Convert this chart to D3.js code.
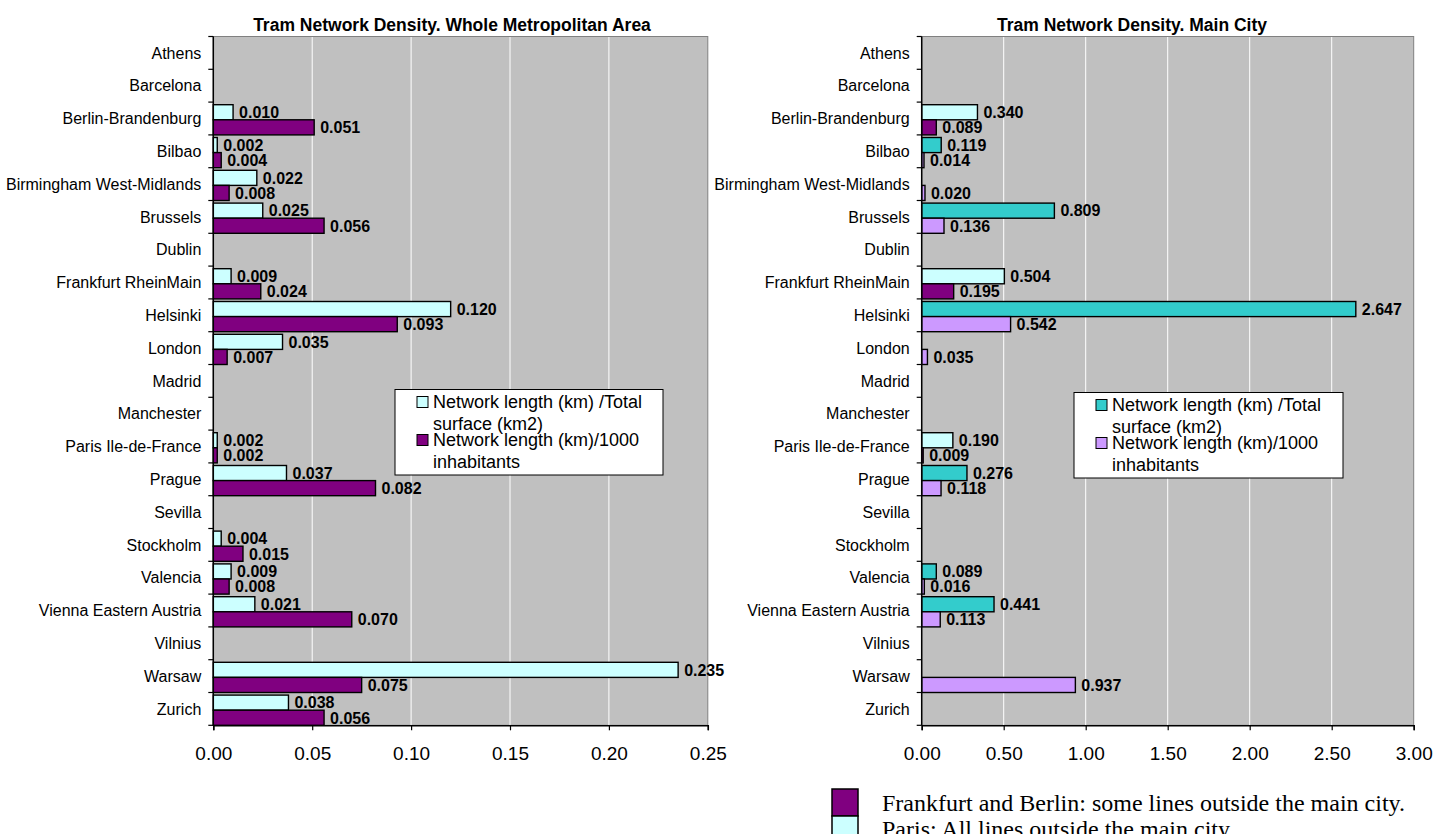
<!DOCTYPE html>
<html>
<head>
<meta charset="utf-8">
<script src="https://cdn.jsdelivr.net/npm/d3@7"></script>
<style>
  html, body { margin: 0; padding: 0; background: #ffffff; }
  svg { display: block; }
</style>
</head>
<body>
<svg id="chart" width="1433" height="834"></svg>
<script>
// ---------- DATA ----------
const categories = ["Athens","Barcelona","Berlin-Brandenburg","Bilbao","Birmingham West-Midlands","Brussels","Dublin","Frankfurt RheinMain","Helsinki","London","Madrid","Manchester","Paris Ile-de-France","Prague","Sevilla","Stockholm","Valencia","Vienna Eastern Austria","Vilnius","Warsaw","Zurich"];
const legendLines = [["Network length (km) /Total", "surface (km2)"], ["Network length (km)/1000", "inhabitants"]];

const metroSurface = [null,null,0.010,0.002,0.022,0.025,null,0.009,0.120,0.035,null,null,0.002,0.037,null,0.004,0.009,0.021,null,0.235,0.038];
const metroInhab   = [null,null,0.051,0.004,0.008,0.056,null,0.024,0.093,0.007,null,null,0.002,0.082,null,0.015,0.008,0.070,null,0.075,0.056];

const citySurface  = [null,null,0.340,0.119,null,0.809,null,0.504,2.647,null,null,null,0.190,0.276,null,null,0.089,0.441,null,null,null];
const cityInhab    = [null,null,0.089,0.014,0.020,0.136,null,0.195,0.542,0.035,null,null,0.009,0.118,null,null,0.016,0.113,null,0.937,null];

const metroTicks = [0, 0.05, 0.10, 0.15, 0.20, 0.25];
const cityTicks  = [0, 0.5, 1.0, 1.5, 2.0, 2.5, 3.0];

const titles = ["Tram Network Density. Whole Metropolitan Area", "Tram Network Density. Main City"];
const specialCategories = ["Berlin-Brandenburg","Frankfurt RheinMain","Paris Ile-de-France"];
const notes = ["Frankfurt and Berlin: some lines outside the main city.", "Paris: All lines outside the main city"];

// ---------- STYLE ----------
const SANS = "'Liberation Sans', Arial, sans-serif";
const SERIF = "'Liberation Serif', 'Times New Roman', serif";
const metroColors = ["#CCFFFF", "#800080"];
const cityColors  = ["#33CCCC", "#CC99FF"];

const svg = d3.select("#chart");

function drawPanel(opt) {
  const g = svg.append("g");
  const x = d3.scaleLinear().domain(opt.domain).range([opt.left, opt.right]);
  const y0 = d3.scaleBand().domain(categories).range([opt.top, opt.bottom]).padding(0);
  const y1 = d3.scaleBand().domain([0, 1]).range([2.6, y0.bandwidth()]).padding(0);

  // plot background
  g.append("rect")
    .attr("x", opt.left).attr("y", opt.top)
    .attr("width", opt.right - opt.left).attr("height", opt.bottom - opt.top)
    .attr("fill", "#C0C0C0").attr("stroke", "#808080").attr("stroke-width", 1);

  // gridlines
  g.selectAll("line.grid").data(opt.ticks.filter(t => t > 0 && t < opt.domain[1]))
    .join("line").attr("class", "grid")
    .attr("x1", d => x(d)).attr("x2", d => x(d))
    .attr("y1", opt.top + 0.5).attr("y2", opt.bottom)
    .attr("stroke", "#ffffff").attr("stroke-width", 1);

  // title
  g.append("text")
    .attr("x", opt.titleX).attr("y", 31)
    .attr("text-anchor", "middle")
    .attr("font-family", SANS).attr("font-weight", "bold").attr("font-size", 17.5)
    .text(opt.title);

  // bars
  const rows = [];
  categories.forEach((c, i) => {
    opt.series.forEach((s, k) => {
      if (s[i] !== null) rows.push({ cat: c, k: k, v: s[i] });
    });
  });
  const fillOf = d => (specialCategories.includes(d.cat) && opt.special) ? metroColors[d.k] : opt.colors[d.k];

  g.selectAll("rect.bar").data(rows).join("rect").attr("class", "bar")
    .attr("x", x(0))
    .attr("y", d => y0(d.cat) + y1(d.k))
    .attr("width", d => Math.max(0, x(d.v) - x(0)))
    .attr("height", y1.bandwidth())
    .attr("fill", fillOf)
    .attr("stroke", "#000").attr("stroke-width", 1.4);

  g.selectAll("text.val").data(rows).join("text").attr("class", "val")
    .attr("x", d => x(d.v) + 6)
    .attr("y", d => y0(d.cat) + y1(d.k) + y1.bandwidth() / 2)
    .attr("dy", "0.36em")
    .attr("font-family", SANS).attr("font-weight", "bold").attr("font-size", 16)
    .text(d => d3.format(".3f")(d.v));

  // y axis (left)
  g.append("line")
    .attr("x1", opt.left).attr("x2", opt.left)
    .attr("y1", opt.top).attr("y2", opt.bottom)
    .attr("stroke", "#000").attr("stroke-width", 1.5);
  const bounds = categories.map(c => y0(c)).concat([opt.bottom]);
  g.selectAll("line.ytick").data(bounds).join("line").attr("class", "ytick")
    .attr("x1", opt.left - 5).attr("x2", opt.left)
    .attr("y1", d => d).attr("y2", d => d)
    .attr("stroke", "#000").attr("stroke-width", 1.2);
  g.selectAll("text.cat").data(categories).join("text").attr("class", "cat")
    .attr("x", opt.left - 12)
    .attr("y", d => y0(d) + y0.bandwidth() / 2)
    .attr("dy", "0.36em")
    .attr("text-anchor", "end")
    .attr("font-family", SANS).attr("font-size", 16)
    .text(d => d);

  // x axis (bottom)
  const xAxis = d3.axisBottom(x).tickValues(opt.ticks).tickFormat(d3.format(".2f")).tickSize(5).tickPadding(16);
  const ax = g.append("g").attr("transform", `translate(0,${opt.bottom})`).call(xAxis);
  ax.select(".domain").attr("stroke", "#000").attr("stroke-width", 1.5);
  ax.selectAll(".tick line").attr("stroke", "#000").attr("stroke-width", 1.2);
  ax.selectAll(".tick text").attr("font-family", SANS).attr("font-size", 19).attr("fill", "#000");

  // legend
  const L = opt.legend;
  const lg = g.append("g").attr("transform", `translate(${L.x},${L.y})`);
  lg.append("rect").attr("width", L.w).attr("height", L.h)
    .attr("fill", "#fff").attr("stroke", "#000").attr("stroke-width", 1);
  legendLines.forEach((ls, k) => {
    const top = k === 0 ? 12.5 : 50.5;
    lg.append("rect").attr("x", 22).attr("y", top - 5.5).attr("width", 11).attr("height", 11)
      .attr("fill", opt.colors[k]).attr("stroke", "#000").attr("stroke-width", 1);
    ls.forEach((t, j) => {
      lg.append("text").attr("x", 38).attr("y", top + j * 21.5).attr("dy", "0.36em")
        .attr("font-family", SANS).attr("font-size", 18).text(t);
    });
  });
}

drawPanel({
  left: 213.3, right: 707.8, top: 36.5, bottom: 725.3,
  domain: [0, 0.25], ticks: metroTicks, series: [metroSurface, metroInhab],
  colors: metroColors, special: false, title: titles[0], titleX: 452,
  legend: { x: 395, y: 389.5, w: 268, h: 85.5 }
});
drawPanel({
  left: 921.7, right: 1413.7, top: 36.5, bottom: 725.3,
  domain: [0, 3], ticks: cityTicks, series: [citySurface, cityInhab],
  colors: cityColors, special: true, title: titles[1], titleX: 1132,
  legend: { x: 1074, y: 392.5, w: 269, h: 85.5 }
});

// footnotes
const noteColors = ["#800080", "#CCFFFF"];
notes.forEach((t, i) => {
  svg.append("rect").attr("x", 832).attr("y", 789 + i * 27).attr("width", 26).attr("height", 27)
    .attr("fill", noteColors[i]).attr("stroke", "#000").attr("stroke-width", 1.5);
  svg.append("text").attr("x", 882).attr("y", 811 + i * 26)
    .attr("font-family", SERIF).attr("font-size", 24).text(t);
});
</script>
</body>
</html>
